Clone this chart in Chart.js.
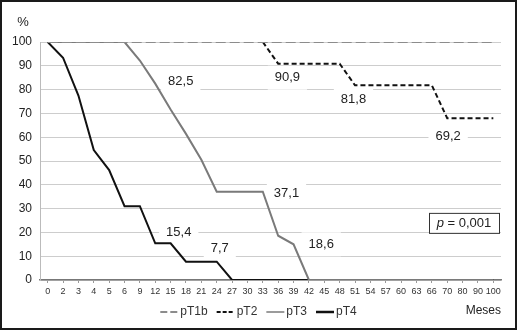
<!DOCTYPE html>
<html>
<head>
<meta charset="utf-8">
<script src="https://cdn.jsdelivr.net/npm/chart.js@4.4.1/dist/chart.umd.min.js"></script>
<style>
  html, body { margin: 0; padding: 0; background: #fff; }
  #wrap { width: 517px; height: 330px; }
</style>
</head>
<body>
<div id="wrap"><canvas id="chart" width="517" height="330"></canvas></div>
<script>
// categorieen (maanden) en overleving per groep (%)
const meses = ['0','2','3','4','5','6','9','12','15','18','21','24','27','30','33','36','39','42','45','48','51','54','57','60','63','66','70','80','90','100'];
const pT1b = [100,100,100,100,100,100,100,100,100,100,100,100,100,100,100,100,100,100,100,100,100,100,100,100,100,100,100,100,100,100];
const pT2  = [100,100,100,100,100,100,100,100,100,100,100,100,100,100,100,90.9,90.9,90.9,90.9,90.9,81.8,81.8,81.8,81.8,81.8,81.8,68,68,68,68];
const pT3  = [100,100,100,100,100,100,92.2,82.5,71.6,61.4,50.5,37.1,37.1,37.1,37.1,18.6,15,0,0,0,0,0,0,0,0,0,0,0,0,0];
const pT4  = [100,93.4,77.5,54.6,46.2,31,31,15.4,15.4,7.7,7.7,7.7,0,0,0,0,0,0,0,0,0,0,0,0,0,0,0,0,0,0];

// labels in de grafiek: tekst, categorie-index, waarde
const labelTexts = ['82,5','90,9','81,8','69,2','37,1','18,6','15,4','7,7'];
const labelIdx   = [8.66, 15.6, 19.9, 26.06, 15.54, 17.8, 8.53, 11.2];
const labelVal   = [83.3, 85, 75.7, 60.5, 36.5, 15, 20, 13.3];

const FONT = '"Liberation Sans", Arial, sans-serif';

const extras = {
  id: 'extras',
  beforeDatasetsDraw(chart) {
    const ctx = chart.ctx;
    const x = chart.scales.x, y = chart.scales.y;
    ctx.save();
    ctx.font = '13px ' + FONT;
    ctx.textAlign = 'center';
    ctx.textBaseline = 'middle';
    labelTexts.forEach((t, i) => {
      const px = x.getPixelForValue(labelIdx[i]);
      const py = y.getPixelForValue(labelVal[i]);
      const w = ctx.measureText(t).width + 14;
      ctx.fillStyle = '#fff';
      ctx.fillRect(px - w / 2, py - 12, w, 24);
      ctx.fillStyle = '#222';
      ctx.fillText(t, px, py);
    });
    ctx.restore();
  },
  afterDraw(chart) {
    const ctx = chart.ctx;
    const area = chart.chartArea;
    const y = chart.scales.y;
    ctx.save();
    // kader
    ctx.strokeStyle = '#1a1a1a';
    ctx.lineWidth = 2;
    ctx.strokeRect(1, 1, 515, 328);
    // % en Meses
    ctx.fillStyle = '#222';
    ctx.textBaseline = 'middle';
    ctx.font = '13px ' + FONT;
    ctx.textAlign = 'center';
    ctx.fillText('%', 23, 22);
    ctx.font = '12px ' + FONT;
    ctx.textAlign = 'right';
    ctx.fillText('Meses', 501, 311);

    // legenda
    ctx.font = '12px ' + FONT;
    ctx.textAlign = 'left';
    const sets = chart.data.datasets;
    const sw = 18, gapT = 2, gapI = 9, ly = 312;
    let total = 0;
    sets.forEach((d, i) => {
      total += sw + gapT + ctx.measureText(d.label).width + (i < sets.length - 1 ? gapI : 0);
    });
    let lx = 258.5 - total / 2;
    sets.forEach(d => {
      ctx.save();
      ctx.strokeStyle = d.borderColor;
      ctx.lineWidth = d.legendWidth || d.borderWidth;
      ctx.setLineDash(d.legendDash || []);
      ctx.beginPath();
      ctx.moveTo(lx, ly);
      ctx.lineTo(lx + sw, ly);
      ctx.stroke();
      ctx.restore();
      lx += sw + gapT;
      ctx.fillStyle = '#333';
      ctx.fillText(d.label, lx, ly);
      lx += ctx.measureText(d.label).width + gapI;
    });

    // p-waarde
    ctx.font = 'italic 13px ' + FONT;
    const pw = ctx.measureText('p').width;
    ctx.font = '13px ' + FONT;
    const rest = ' = 0,001';
    const rw = ctx.measureText(rest).width;
    const bw = 70, bh = 20;
    const bx = area.right - 2 - bw;
    const by = y.getPixelForValue(24) - bh / 2;
    ctx.fillStyle = '#fff';
    ctx.fillRect(bx, by, bw, bh);
    ctx.strokeStyle = '#333';
    ctx.lineWidth = 1;
    ctx.strokeRect(bx + 0.5, by + 0.5, bw, bh);
    const tx = bx + (bw - pw - rw) / 2;
    ctx.textAlign = 'left';
    ctx.fillStyle = '#222';
    ctx.font = 'italic 13px ' + FONT;
    ctx.fillText('p', tx, by + bh / 2 + 1);
    ctx.font = '13px ' + FONT;
    ctx.fillText(rest, tx + pw, by + bh / 2 + 1);
    ctx.restore();
  }
};

// pT2 valt op 100% samen met pT1b: dat stuk niet tekenen
const hideTop = c => (c.p0.parsed.y === 100 && c.p1.parsed.y === 100) ? 'rgba(0,0,0,0)' : undefined;

const ctx = document.getElementById('chart').getContext('2d');
new Chart(ctx, {
  type: 'line',
  data: {
    labels: meses,
    datasets: [
      { label: 'pT1b', data: pT1b, borderColor: '#8c8c8c', borderDash: [10, 4], borderWidth: 2, legendDash: [7, 3] },
      { label: 'pT2', data: pT2, borderColor: '#111', borderDash: [5, 3], borderWidth: 2, legendDash: [4, 2],
        segment: { borderColor: hideTop } },
      { label: 'pT3', data: pT3, borderColor: '#7a7a7a', borderWidth: 2, legendWidth: 1.5 },
      { label: 'pT4', data: pT4, borderColor: '#111', borderWidth: 2, legendWidth: 2.5 }
    ]
  },
  options: {
    responsive: false,
    animation: false,
    maintainAspectRatio: false,
    elements: {
      point: { radius: 0 },
      line: { tension: 0, fill: false }
    },
    layout: { padding: { left: 0, top: 42, right: 16, bottom: 30 } },
    plugins: {
      tooltip: { enabled: false },
      legend: { display: false }
    },
    scales: {
      x: {
        offset: true,
        grid: { display: true, drawOnChartArea: false, tickLength: 3, color: '#999' },
        border: { color: '#777', width: 1.5 },
        ticks: { autoSkip: false, maxRotation: 0, padding: 3, color: '#333', font: { family: FONT, size: 9 } },
        afterFit: s => { s.height = 20; }
      },
      y: {
        min: 0,
        max: 100,
        ticks: { stepSize: 10, padding: 8, color: '#222', font: { family: FONT, size: 12 } },
        grid: { color: '#cdcdcd', drawTicks: false },
        border: { color: '#bbb' },
        afterFit: s => { s.width = 40; }
      }
    }
  },
  plugins: [extras]
});
</script>
</body>
</html>
